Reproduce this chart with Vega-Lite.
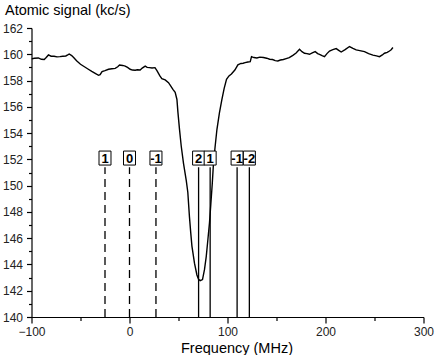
{
  "$schema": "https://vega.github.io/schema/vega-lite/v6.json",
  "width": 392,
  "height": 289,
  "autosize": "none",
  "padding": {"left": 31.5, "top": 28, "right": 12.5, "bottom": 38},
  "background": "white",
  "config": {
    "view": {"stroke": null},
    "font": "Liberation Sans",
    "axis": {"domainColor": "#000", "tickColor": "#000", "labelColor": "#222", "titleColor": "#000", "labelFont": "Liberation Sans", "titleFont": "Liberation Sans", "labelFontSize": 12, "titleFontSize": 14.5, "titleFontWeight": "normal", "grid": false, "domainWidth": 1.2, "tickWidth": 1.2}
  },
  "datasets": {
    "curve": [
      {"f": -100, "signal": 159.65}, {"f": -97, "signal": 159.7}, {"f": -93, "signal": 159.72}, {"f": -90, "signal": 159.62},
      {"f": -87, "signal": 159.6}, {"f": -85, "signal": 159.75}, {"f": -82.7, "signal": 159.95}, {"f": -80, "signal": 159.85},
      {"f": -77, "signal": 159.85}, {"f": -74, "signal": 159.8}, {"f": -71, "signal": 159.82}, {"f": -68, "signal": 159.85},
      {"f": -65, "signal": 159.87}, {"f": -63, "signal": 159.95}, {"f": -61.5, "signal": 160.02}, {"f": -59, "signal": 159.9},
      {"f": -57, "signal": 159.75}, {"f": -54, "signal": 159.5}, {"f": -50, "signal": 159.24}, {"f": -46, "signal": 159.05},
      {"f": -42, "signal": 158.86}, {"f": -38.5, "signal": 158.7}, {"f": -35, "signal": 158.55}, {"f": -31.6, "signal": 158.4},
      {"f": -30, "signal": 158.45}, {"f": -28, "signal": 158.68}, {"f": -25, "signal": 158.75}, {"f": -21.4, "signal": 158.86},
      {"f": -18, "signal": 158.9}, {"f": -14.6, "signal": 158.93}, {"f": -12, "signal": 159.05}, {"f": -10.2, "signal": 159.18},
      {"f": -7, "signal": 159.15}, {"f": -4.4, "signal": 159.1}, {"f": -2, "signal": 159.0}, {"f": 0.7, "signal": 158.86},
      {"f": 3, "signal": 158.8}, {"f": 5.8, "signal": 158.78}, {"f": 8, "signal": 158.82}, {"f": 10.9, "signal": 158.8},
      {"f": 13, "signal": 158.95}, {"f": 16, "signal": 159.1}, {"f": 18, "signal": 159.0}, {"f": 20.4, "signal": 158.98},
      {"f": 23, "signal": 158.95}, {"f": 26, "signal": 158.98}, {"f": 28, "signal": 158.75}, {"f": 31, "signal": 158.35},
      {"f": 33, "signal": 158.15}, {"f": 36.4, "signal": 158.05}, {"f": 39.8, "signal": 157.84}, {"f": 42, "signal": 157.6},
      {"f": 44.3, "signal": 157.33}, {"f": 46.6, "signal": 157.1}, {"f": 48.4, "signal": 156.56}, {"f": 49.4, "signal": 155.6},
      {"f": 51, "signal": 154.3}, {"f": 52.8, "signal": 153.0}, {"f": 55.1, "signal": 151.7}, {"f": 57.9, "signal": 150.4},
      {"f": 59.5, "signal": 149.5}, {"f": 61.2, "signal": 147.6}, {"f": 62.5, "signal": 146.4}, {"f": 63.7, "signal": 145.4},
      {"f": 66.3, "signal": 144.1}, {"f": 68.8, "signal": 143.2}, {"f": 70.4, "signal": 142.88}, {"f": 72.1, "signal": 142.77},
      {"f": 74.5, "signal": 142.85}, {"f": 76.5, "signal": 143.6}, {"f": 78.3, "signal": 144.6}, {"f": 80, "signal": 145.9},
      {"f": 81.6, "signal": 147.15}, {"f": 83, "signal": 148.6}, {"f": 84.5, "signal": 150.2}, {"f": 85.7, "signal": 151.7},
      {"f": 87.4, "signal": 153.0}, {"f": 89.2, "signal": 154.27}, {"f": 91.8, "signal": 155.55}, {"f": 94.3, "signal": 156.56},
      {"f": 96.6, "signal": 157.4}, {"f": 99, "signal": 158.1}, {"f": 101.5, "signal": 158.35}, {"f": 104, "signal": 158.5},
      {"f": 107.5, "signal": 158.8}, {"f": 110.6, "signal": 159.2}, {"f": 113.7, "signal": 159.3}, {"f": 116, "signal": 159.32},
      {"f": 118, "signal": 159.36}, {"f": 120.8, "signal": 159.41}, {"f": 123.2, "signal": 159.44}, {"f": 124.5, "signal": 159.82},
      {"f": 127, "signal": 159.75}, {"f": 130, "signal": 159.72}, {"f": 133, "signal": 159.78}, {"f": 136.7, "signal": 159.75},
      {"f": 140, "signal": 159.7}, {"f": 143, "signal": 159.62}, {"f": 146, "signal": 159.6}, {"f": 148.7, "signal": 159.52},
      {"f": 151.4, "signal": 159.49}, {"f": 154, "signal": 159.56}, {"f": 157, "signal": 159.6}, {"f": 159.9, "signal": 159.67},
      {"f": 163, "signal": 159.75}, {"f": 166.7, "signal": 159.92}, {"f": 170, "signal": 160.1}, {"f": 173.5, "signal": 160.38},
      {"f": 176, "signal": 160.2}, {"f": 178.6, "signal": 160.08}, {"f": 181, "signal": 160.05}, {"f": 183.7, "signal": 160.0},
      {"f": 186.5, "signal": 160.1}, {"f": 189.5, "signal": 160.2}, {"f": 192, "signal": 160.05}, {"f": 193.9, "signal": 160.0},
      {"f": 196.5, "signal": 159.9}, {"f": 199, "signal": 159.82}, {"f": 201.5, "signal": 160.05}, {"f": 204.1, "signal": 160.25},
      {"f": 207.5, "signal": 160.35}, {"f": 210.9, "signal": 160.43}, {"f": 213.5, "signal": 160.3}, {"f": 216, "signal": 160.17},
      {"f": 220, "signal": 160.35}, {"f": 224.5, "signal": 160.59}, {"f": 228, "signal": 160.45}, {"f": 231.3, "signal": 160.33},
      {"f": 235, "signal": 160.28}, {"f": 239.8, "signal": 160.2}, {"f": 244, "signal": 160.05}, {"f": 248.4, "signal": 159.94},
      {"f": 252, "signal": 159.88}, {"f": 255.1, "signal": 159.82}, {"f": 258, "signal": 159.95}, {"f": 260.2, "signal": 160.08},
      {"f": 263, "signal": 160.15}, {"f": 265.3, "signal": 160.25}, {"f": 267, "signal": 160.35}, {"f": 268.8, "signal": 160.51}
    ],
    "markers": [
      {"f": -25, "label": "1", "style": "dashed"},
      {"f": 0, "label": "0", "style": "dashed"},
      {"f": 27, "label": "-1", "style": "dashed"},
      {"f": 70.5, "label": "2", "style": "solid"},
      {"f": 82.3, "label": "1", "style": "solid"},
      {"f": 109.8, "label": "-1", "style": "solid"},
      {"f": 122.3, "label": "-2", "style": "solid"}
    ]
  },
  "resolve": {"axis": {"x": "independent", "y": "independent"}},
  "layer": [
    {
      "data": {"name": "curve"},
      "mark": {"type": "line", "color": "#000", "strokeWidth": 1.4, "clip": true},
      "encoding": {
        "x": {"field": "f", "type": "quantitative", "scale": {"domain": [-100, 300], "nice": false, "zero": false},
          "axis": {"orient": "bottom", "values": [-100, 0, 100, 200, 300], "tickSize": 6, "labelPadding": 3, "title": "Frequency (MHz)", "titleX": 205, "titleY": 31, "titleBaseline": "middle", "titleAnchor": null, "titleAlign": "center", "labelFlush": false}},
        "y": {"field": "signal", "type": "quantitative", "scale": {"domain": [140, 162], "nice": false, "zero": false},
          "axis": {"orient": "left", "values": [140, 142, 144, 146, 148, 150, 152, 154, 156, 158, 160, 162], "tickSize": 5, "labelPadding": 4, "title": "Atomic signal (kc/s)", "titleAngle": 0, "titleX": -27, "titleY": -13.5, "titleAlign": "left", "titleBaseline": "alphabetic", "titleAnchor": null, "labelFlush": false}}
      }
    },
    {
      "data": {"name": "curve"},
      "mark": {"type": "line", "opacity": 0},
      "encoding": {
        "x": {"field": "f", "type": "quantitative", "scale": {"domain": [-100, 300], "nice": false, "zero": false},
          "axis": {"orient": "bottom", "values": [-50, 50, 150, 250], "tickSize": 3.5, "labels": false, "domain": false, "title": null}},
        "y": {"field": "signal", "type": "quantitative", "scale": {"domain": [140, 162], "nice": false, "zero": false},
          "axis": {"orient": "left", "values": [141, 143, 145, 147, 149, 151, 153, 155, 157, 159, 161], "tickSize": 3, "labels": false, "domain": false, "title": null}}
      }
    },
    {
      "data": {"name": "markers"},
      "mark": {"type": "rule", "color": "#000", "strokeWidth": 1.3},
      "encoding": {
        "x": {"field": "f", "type": "quantitative", "axis": null},
        "y": {"datum": 140, "type": "quantitative", "axis": null},
        "y2": {"datum": 151.4},
        "strokeDash": {"field": "style", "type": "nominal", "scale": {"domain": ["dashed", "solid"], "range": [[8, 5], [1, 0]]}, "legend": null}
      }
    },
    {
      "data": {"name": "markers"},
      "mark": {"type": "point", "shape": "M-0.857,-1H0.857V1H-0.857Z", "size": 196, "filled": true, "fill": "white", "stroke": "#000", "strokeWidth": 1, "opacity": 1},
      "encoding": {
        "x": {"field": "f", "type": "quantitative", "axis": null},
        "y": {"datum": 152.1, "type": "quantitative", "axis": null}
      }
    },
    {
      "data": {"name": "markers"},
      "mark": {"type": "text", "fontSize": 13, "fontWeight": "bold", "font": "Liberation Sans", "color": "#000", "baseline": "middle", "align": "center", "dy": 1},
      "encoding": {
        "x": {"field": "f", "type": "quantitative", "axis": null},
        "y": {"datum": 152.1, "type": "quantitative", "axis": null},
        "text": {"field": "label"}
      }
    }
  ]
}
